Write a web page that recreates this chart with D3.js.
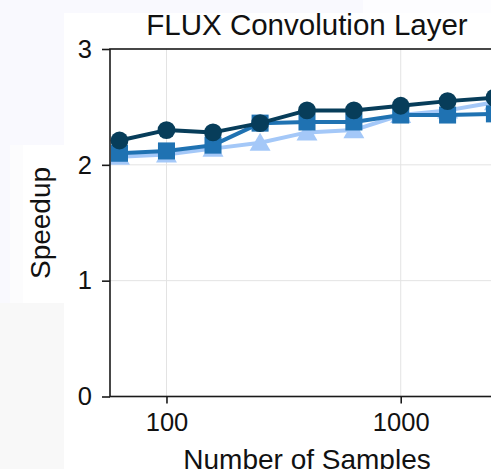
<!DOCTYPE html>
<html>
<head>
<meta charset="utf-8">
<script src="https://cdn.jsdelivr.net/npm/d3@7"></script>
<style>
    body { margin: 0; background: #f9f9fe; overflow: hidden; }
    #chart text { font-family: "Liberation Sans", Arial, sans-serif; fill: #111; }
    .title { font-size: 29.5px; }
    .axis-label { font-size: 28px; }
    .tick-label { font-size: 25.5px; }
</style>
</head>
<body>
<div id="chart"></div>
<script>
// number of samples (log spaced) and the speedup of the three runs
const samples = [63, 100, 158, 251, 398, 631, 1000, 1585, 2512];
const speedupCircle = [2.21, 2.30, 2.28, 2.36, 2.47, 2.47, 2.51, 2.55, 2.58];
const speedupSquare = [2.10, 2.12, 2.17, 2.36, 2.37, 2.37, 2.43, 2.43, 2.44];
const speedupTriangle = [2.07, 2.09, 2.14, 2.19, 2.28, 2.30, 2.43, 2.47, 2.54];
const xTicks = [100, 1000];
const yTicks = [0, 1, 2, 3];

class SpeedupChart {

    constructor(parentElement) {
        this.parentElement = parentElement;
        this.series = [
            {name: "triangle", values: speedupTriangle, color: "#a4c8f8", symbol: d3.symbolTriangle},
            {name: "square", values: speedupSquare, color: "#1f72b2", symbol: d3.symbolSquare},
            {name: "circle", values: speedupCircle, color: "#073d5a", symbol: d3.symbolCircle}
        ];
        this.initVis();
    }

    initVis() {
        let vis = this;

        vis.margin = {top: 49, left: 110};
        vis.width = 394;
        vis.height = 347.5;

        vis.svg = d3.select("#" + vis.parentElement).append("svg")
            .attr("width", 491)
            .attr("height", 469);

        // the pasted panels behind the plot
        vis.svg.append("rect").attr("x", 64).attr("y", 13).attr("width", 427).attr("height", 456).attr("fill", "#ffffff");
        vis.svg.append("rect").attr("x", 363).attr("y", 0).attr("width", 128).attr("height", 13).attr("fill", "#fdfdff");
        vis.svg.append("rect").attr("x", 0).attr("y", 303).attr("width", 64).attr("height", 166).attr("fill", "#f8f8f8");
        vis.svg.append("rect").attr("x", 10).attr("y", 145).attr("width", 54).attr("height", 158).attr("fill", "#fcfcfd");
        vis.svg.append("rect").attr("x", 23).attr("y", 145).attr("width", 41).attr("height", 158).attr("fill", "#ffffff");

        vis.x = d3.scaleLog()
            .domain([57.4, 2760])
            .range([0, vis.width]);
        vis.y = d3.scaleLinear()
            .domain([0, 3])
            .range([vis.height, 0]);

        vis.g = vis.svg.append("g")
            .attr("transform", `translate(${vis.margin.left}, ${vis.margin.top})`);

        // grid
        vis.g.selectAll(".xgrid")
            .data(xTicks)
            .enter().append("line")
            .attr("x1", d => vis.x(d)).attr("x2", d => vis.x(d))
            .attr("y1", 0).attr("y2", vis.height)
            .attr("stroke", "#e3e3e3").attr("stroke-width", 1);
        vis.g.selectAll(".ygrid")
            .data(yTicks.filter(d => d > 0 && d < 3))
            .enter().append("line")
            .attr("x1", 0).attr("x2", vis.width)
            .attr("y1", d => vis.y(d)).attr("y2", d => vis.y(d))
            .attr("stroke", "#e3e3e3").attr("stroke-width", 1);

        vis.updateVis();
    }

    updateVis() {
        let vis = this;

        let line = d3.line()
            .x((d, i) => vis.x(samples[i]))
            .y(d => vis.y(d));

        vis.series.forEach(s => {
            vis.g.append("path")
                .datum(s.values)
                .attr("fill", "none")
                .attr("stroke", s.color)
                .attr("stroke-width", 4)
                .attr("stroke-linejoin", "round")
                .attr("d", line);

            let size = s.name === "circle" ? 250 : (s.name === "square" ? 290 : 190);
            vis.g.selectAll(".m-" + s.name)
                .data(s.values)
                .enter().append("path")
                .attr("class", "m-" + s.name)
                .attr("transform", (d, i) => `translate(${vis.x(samples[i])}, ${vis.y(d) + (s.name === "triangle" ? 2 : 0)})`)
                .attr("d", d3.symbol().type(s.symbol).size(size))
                .attr("fill", s.color);
        });

        // axes
        let yAxis = d3.axisLeft(vis.y)
            .tickValues(yTicks)
            .tickFormat(d3.format("d"))
            .tickSize(8)
            .tickPadding(10);
        let xAxis = d3.axisBottom(vis.x)
            .tickValues(xTicks)
            .tickFormat(d3.format("d"))
            .tickSize(7)
            .tickPadding(9);

        let ya = vis.g.append("g").call(yAxis);
        let xa = vis.g.append("g").attr("transform", `translate(0, ${vis.height})`).call(xAxis);
        [ya, xa].forEach(a => {
            a.select(".domain").remove();
            a.selectAll("line").attr("stroke", "#1a1a1a").attr("stroke-width", 1.6);
            a.selectAll("text").attr("class", "tick-label").attr("fill", "#111");
        });

        // spines
        vis.g.append("rect")
            .attr("x", 0).attr("y", 0)
            .attr("width", vis.width).attr("height", vis.height)
            .attr("fill", "none")
            .attr("stroke", "#1a1a1a")
            .attr("stroke-width", 1.6);

        vis.svg.append("text")
            .attr("class", "title")
            .attr("text-anchor", "middle")
            .attr("x", vis.margin.left + vis.width / 2)
            .attr("y", 35)
            .text("FLUX Convolution Layer");

        vis.svg.append("text")
            .attr("class", "axis-label")
            .attr("text-anchor", "middle")
            .attr("x", vis.margin.left + vis.width / 2)
            .attr("y", 469)
            .text("Number of Samples");

        vis.svg.append("text")
            .attr("class", "axis-label")
            .attr("text-anchor", "middle")
            .attr("transform", `translate(50, ${223}) rotate(-90)`)
            .text("Speedup");
    }
}

new SpeedupChart("chart");
</script>
</body>
</html>
